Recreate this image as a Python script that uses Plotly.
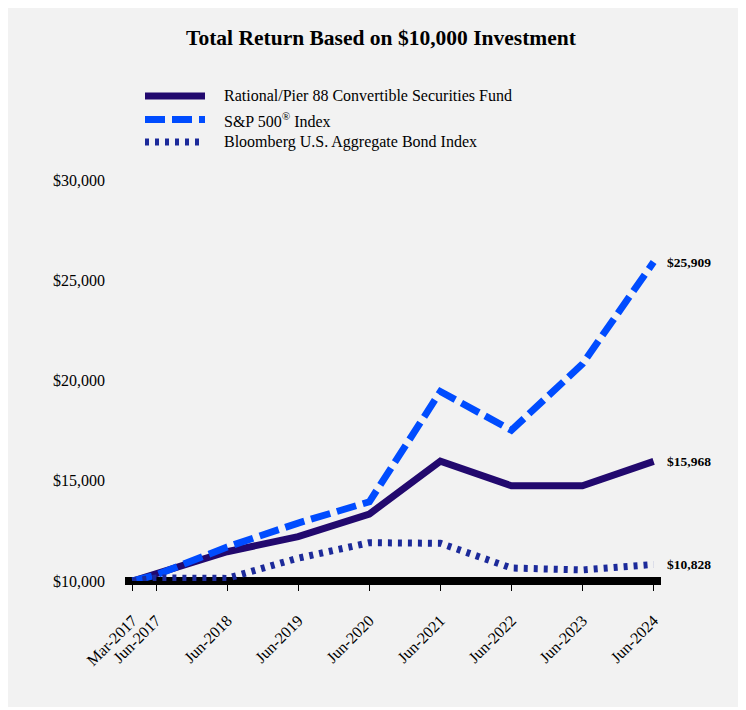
import plotly.graph_objects as go

# ---------------- data ----------------
dates = ["2017-03-01", "2017-06-30", "2018-06-30", "2019-06-30", "2020-06-30",
         "2021-06-30", "2022-06-30", "2023-06-30", "2024-06-30"]
tick_labels = ["Mar-2017", "Jun-2017", "Jun-2018", "Jun-2019", "Jun-2020",
               "Jun-2021", "Jun-2022", "Jun-2023", "Jun-2024"]
fund = [10000, 10350, 11460, 12210, 13340, 15980, 14750, 14750, 15968]
sp500 = [10000, 10300, 11700, 12890, 13950, 19450, 17520, 20820, 25909]
bond = [10000, 10150, 10130, 11140, 11910, 11880, 10650, 10550, 10828]
y_ticks = [10000, 15000, 20000, 25000, 30000]
y_tick_labels = ["$10,000", "$15,000", "$20,000", "$25,000", "$30,000"]

names = ["Rational/Pier 88 Convertible Securities Fund",
         "S&P 500<sup>®</sup> Index",
         "Bloomberg U.S. Aggregate Bond Index"]
end_labels = ["$15,968", "$25,909", "$10,828"]

# ---------------- styles ----------------
FONT = "Liberation Serif, Times New Roman, serif"
BG = "#f2f2f2"
colors = ["#22096e", "#004cff", "#1c2a9a"]
dashes = ["solid", "20px,7px", "4px,6px"]
OX, OY = 8, 8                      # page offset of the figure (body margin)
W, H = 746 - OX, 707 - OY
L = 125 - OX
T = 180 - OY
R = 746 - 661
B = (H + OY) - 581
PW, PH = W - L - R, H - T - B


def px_x(p):
    """page x pixel -> paper coordinate"""
    return (p - OX - L) / PW


def px_y(p):
    """page y pixel -> paper coordinate"""
    return (OY + T + PH - p) / PH


fig = go.Figure()
series = [fund, sp500, bond]
for i, vals in enumerate(series):
    fig.add_trace(go.Scatter(
        x=dates, y=vals, mode="lines", name=names[i],
        line=dict(color=colors[i], width=7, dash=dashes[i]),
        cliponaxis=False, showlegend=False, hoverinfo="skip"))

annotations = []
shapes = []
# thick baseline along the bottom of the plot (under the traces)
shapes.append(dict(type="line", xref="paper", yref="paper", x0=0, x1=1,
                   y0=px_y(581), y1=px_y(581),
                   line=dict(color="black", width=8), layer="below"))

# end labels
for i, vals in enumerate(series):
    annotations.append(dict(x=dates[-1], y=vals[-1], xref="x", yref="y",
                            text="<b>" + end_labels[i] + "</b>", showarrow=False,
                            xanchor="left", yanchor="middle", xshift=11,
                            font=dict(family=FONT, size=13.5, color="black")))

# manual legend
leg_y = [96, 119.5, 142]
for i in range(3):
    shapes.append(dict(type="line", xref="paper", yref="paper",
                       x0=px_x(145), x1=px_x(205), y0=px_y(leg_y[i]), y1=px_y(leg_y[i]),
                       line=dict(color=colors[i], width=7, dash=dashes[i])))
    annotations.append(dict(x=px_x(222), y=px_y(leg_y[i]), xref="paper", yref="paper",
                            text=names[i], showarrow=False, xanchor="left",
                            yanchor="middle",
                            font=dict(family=FONT, size=16, color="black")))

fig.update_layout(
    width=W, height=H,
    margin=dict(l=L, r=R, t=T, b=B),
    paper_bgcolor=BG, plot_bgcolor=BG,
    title=dict(text="<b>Total Return Based on $10,000 Investment</b>",
               xref="container", yref="container",
               x=(381 - OX) / W, y=1 - (37 - OY) / H,
               xanchor="center", yanchor="middle",
               font=dict(family=FONT, size=21.5, color="black")),
    xaxis=dict(type="date", range=["2017-01-21", "2024-08-07"],
               tickvals=dates, ticktext=tick_labels, tickangle=-45,
               ticks="outside", ticklen=9, tickwidth=1, tickcolor="black",
               ticklabelstandoff=14,
               showgrid=False, zeroline=False, showline=False,
               tickfont=dict(family=FONT, size=16, color="black")),
    yaxis=dict(range=[10000, 30000], tickvals=y_ticks, ticktext=y_tick_labels,
               showgrid=False, zeroline=False, showline=False,
               ticks="", ticklabelstandoff=19,
               tickfont=dict(family=FONT, size=16, color="black")),
    shapes=shapes, annotations=annotations, showlegend=False,
)

fig.write_html("out.html")
